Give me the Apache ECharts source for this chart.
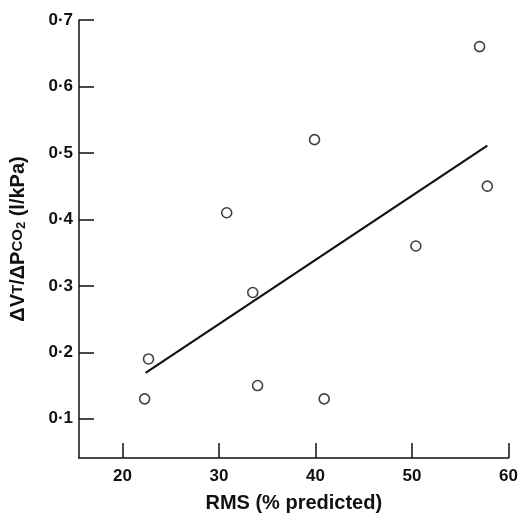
<!DOCTYPE html>
<html>
<head>
<meta charset="utf-8">
<script src="https://cdn.jsdelivr.net/npm/echarts@6/dist/echarts.min.js"></script>
<style>
html,body{margin:0;padding:0;background:#fff;}
#c{width:521px;height:518px;}
</style>
</head>
<body>
<div id="c"></div>
<script>
// Data
var rmsValues = [22.7, 22.3, 30.8, 33.5, 34.0, 39.9, 40.9, 50.4, 57.0, 57.8];
var ventResponse = [0.19, 0.13, 0.41, 0.29, 0.15, 0.52, 0.13, 0.36, 0.66, 0.45];
var fitX = [22.4, 57.8];
var fitY = [0.169, 0.511];
var xTicks = [20, 30, 40, 50, 60];
var yTicks = [0.1, 0.2, 0.3, 0.4, 0.5, 0.6, 0.7];

var pts = rmsValues.map(function (x, i) { return [x, ventResponse[i]]; });
var fit = fitX.map(function (x, i) { return [x, fitY[i]]; });

var font = '"Liberation Sans", Arial, sans-serif';
var chart = echarts.init(document.getElementById('c'), null, {renderer: 'canvas'});
chart.setOption({
  animation: false,
  backgroundColor: '#fff',
  grid: {left: 79, right: 11, top: 20, bottom: 58, containLabel: false},
  xAxis: {
    type: 'value', min: 15.5, max: 60,
    name: 'RMS (% predicted)', nameLocation: 'middle', nameGap: 35,
    nameTextStyle: {fontFamily: font, fontSize: 20, fontWeight: 'bold', color: '#111'},
    axisLine: {show: true, lineStyle: {color: '#111', width: 1.5}},
    axisTick: {show: true, inside: true, length: 15, customValues: xTicks, lineStyle: {color: '#111', width: 1.5}},
    axisLabel: {customValues: xTicks, margin: 10, fontFamily: font, fontSize: 17, fontWeight: 'bold', color: '#111'},
    splitLine: {show: false}
  },
  yAxis: {
    type: 'value', min: 0.041, max: 0.7,
    name: '{n|ΔV}{s|T}{n|/ΔP}{s|CO}{sub|2}{n| (l/kPa)}',
    nameLocation: 'middle', nameGap: 51, nameRotate: 90,
    nameTextStyle: {
      fontFamily: font, fontSize: 20, fontWeight: 'bold', color: '#111',
      rich: {
        n: {fontFamily: font, fontSize: 20, fontWeight: 'bold', color: '#111'},
        s: {fontFamily: font, fontSize: 15, fontWeight: 'bold', color: '#111'},
        sub: {fontFamily: font, fontSize: 13, fontWeight: 'bold', color: '#111', verticalAlign: 'bottom', padding: [7, 0, 0, 0]}
      }
    },
    axisLine: {show: true, lineStyle: {color: '#111', width: 1.5}},
    axisTick: {show: true, inside: true, length: 15, customValues: yTicks, lineStyle: {color: '#111', width: 1.5}},
    axisLabel: {
      customValues: yTicks, margin: 6, fontFamily: font, fontSize: 17, fontWeight: 'bold', color: '#111',
      formatter: function (v) { return (Math.round(v * 10) / 10).toFixed(1).replace('.', '·'); }
    },
    splitLine: {show: false}
  },
  series: [
    {
      type: 'line', data: fit, showSymbol: false, symbol: 'none',
      lineStyle: {color: '#111', width: 2.2}, z: 2
    },
    {
      type: 'scatter', data: pts, symbol: 'circle', symbolSize: 10,
      itemStyle: {color: '#fff', borderColor: '#111', borderWidth: 1.6}, z: 3
    }
  ]
});
</script>
</body>
</html>
